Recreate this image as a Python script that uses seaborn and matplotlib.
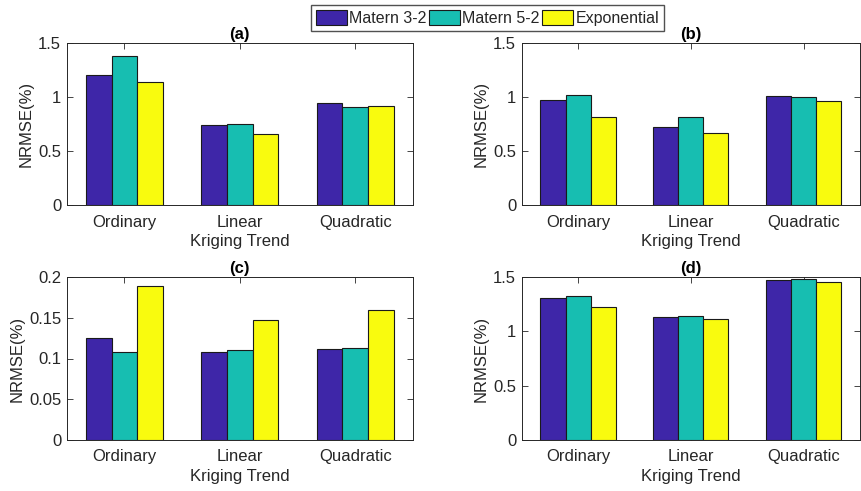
import pandas as pd
import seaborn as sns
import matplotlib.pyplot as plt
from matplotlib.ticker import FuncFormatter
from matplotlib.patches import Patch

# data
trends = ['Ordinary', 'Linear', 'Quadratic']
kernels = ['Matern 3-2', 'Matern 5-2', 'Exponential']
colors = ['#3E26A8', '#17BEB1', '#F9FB0E']

panel_a = {'Matern 3-2': [1.21, 0.74, 0.945],
           'Matern 5-2': [1.385, 0.752, 0.906],
           'Exponential': [1.137, 0.659, 0.919]}
panel_b = {'Matern 3-2': [0.974, 0.724, 1.015],
           'Matern 5-2': [1.024, 0.817, 1.002],
           'Exponential': [0.820, 0.671, 0.968]}
panel_c = {'Matern 3-2': [0.1248, 0.1084, 0.1117],
           'Matern 5-2': [0.108, 0.110, 0.1125],
           'Exponential': [0.1889, 0.147, 0.1593]}
panel_d = {'Matern 3-2': [1.306, 1.130, 1.478],
           'Matern 5-2': [1.327, 1.143, 1.485],
           'Exponential': [1.223, 1.118, 1.454]}

panels = [('(a)', panel_a, 1.5, 0.5), ('(b)', panel_b, 1.5, 0.5),
          ('(c)', panel_c, 0.2, 0.05), ('(d)', panel_d, 1.5, 0.5)]

sns.set_style('white')
plt.rcParams['font.family'] = ['Liberation Sans', 'DejaVu Sans']
txt = '#262626'

fig = plt.figure(figsize=(8.61, 4.91), dpi=100)
# axes boxes in pixels (left, top, right, bottom)
W, H = 861, 491
boxes = [(66.7, 43.3, 413, 205), (521.7, 43.3, 860, 205),
         (66.7, 277.3, 413, 439.7), (521.7, 277.3, 860, 439.7)]

for (title, vals, ymax, step), (x0, y0, x1, y1) in zip(panels, boxes):
    ax = fig.add_axes([x0 / W, 1 - y1 / H, (x1 - x0) / W, (y1 - y0) / H])
    rows = []
    for k in kernels:
        for t, v in zip(trends, vals[k]):
            rows.append({'trend': t, 'kernel': k, 'value': v})
    df = pd.DataFrame(rows)
    sns.barplot(data=df, x='trend', y='value', hue='kernel', order=trends,
                hue_order=kernels, palette=colors, width=0.667,
                edgecolor='#1a1a1a', linewidth=0.8, saturation=1,
                legend=False, ax=ax)
    ax.set_xlim(-0.5, 2.5)
    ax.set_ylim(0, ymax)
    n = int(round(ymax / step))
    ax.set_yticks([i * step for i in range(n + 1)])
    ax.yaxis.set_major_formatter(FuncFormatter(lambda v, p: f'{v:g}'))
    ax.set_xlabel('Kriging Trend', color=txt, fontsize=12, labelpad=3)
    ax.set_ylabel('NRMSE(%)', color=txt, fontsize=12, labelpad=3)
    ax.set_title(title, fontweight='bold', fontsize=12, pad=3, color='black')
    ax.tick_params(direction='in', length=4, width=0.6, colors=txt,
                   top=True, right=True, bottom=True, left=True,
                   labelsize=12)
    ax.tick_params(axis='x', pad=7)
    ax.tick_params(axis='y', pad=4)
    for s in ax.spines.values():
        s.set_color(txt)
        s.set_linewidth(0.7)

handles = [Patch(facecolor=c, edgecolor='#1a1a1a', linewidth=0.8, label=k)
           for c, k in zip(colors, kernels)]
fig.legend(handles=handles, loc='center', bbox_to_anchor=(487.5 / W, 1 - 18 / H),
           ncol=3, frameon=True, fancybox=False, edgecolor=txt,
           fontsize=11.5, handlelength=1.95, handleheight=1.05,
           handletextpad=0.15, columnspacing=0.15, borderpad=0.3,
           borderaxespad=0)

fig.savefig('out.png', dpi=100)
